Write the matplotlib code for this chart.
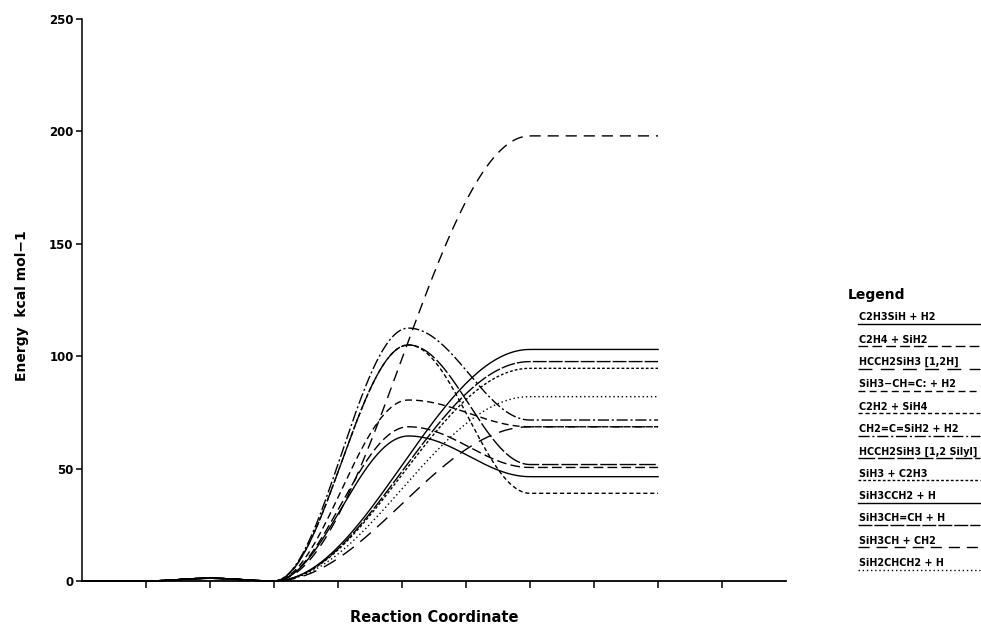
import numpy as np
import matplotlib
matplotlib.use("Agg")
import matplotlib.pyplot as plt
from matplotlib.lines import Line2D

# stationary points (kcal/mol)
names = ["C2H3SiH + H2", "C2H4 + SiH2", "HCCH2SiH3 [1,2H]", "SiH3\u2212CH=C: + H2",
         "C2H2 + SiH4", "CH2=C=SiH2 + H2", "HCCH2SiH3 [1,2 Silyl]", "SiH3 + C2H3",
         "SiH3CCH2 + H", "SiH3CH=CH + H", "SiH3CH + CH2", "SiH2CHCH2 + H"]
ts_energy = [64.5, 68.6, None, 80.5, 105.0, 112.5, 105.0, None, None, None, None, None]
product_energy = [46.4, 50.5, 68.6, 68.6, 39.0, 71.6, 51.8, 94.6, 103.0, 97.6, 198.0, 82.0]
styles = ["-", (0, (7, 3)), (0, (10, 6)), (0, (5, 3)), (0, (3, 2)), (0, (8, 2, 1.5, 2)),
          (0, (12, 2)), (0, (2, 1.5)), "-", (0, (10, 1.5)), (0, (8, 5)), (0, (1, 2))]

# reaction coordinate positions of the stationary points
x_start, x_pre, x_bump, x_react, x_ts, x_prod, x_end = 0, 1, 2, 3, 5.1, 7, 9
bump_energy = 1.2


def smooth(nodes_x, nodes_y, n=80):
    # connect stationary points with flat-ended smooth segments
    xs, ys = [], []
    for i in range(len(nodes_x) - 1):
        t = np.linspace(0, 1, n)
        w = (1 - np.cos(np.pi * t)) / 2
        xs.append(nodes_x[i] + (nodes_x[i + 1] - nodes_x[i]) * t)
        ys.append(nodes_y[i] + (nodes_y[i + 1] - nodes_y[i]) * w)
    return np.concatenate(xs), np.concatenate(ys)


W, H = 981, 627
fig = plt.figure(figsize=(9.81, 6.27), dpi=100)
ax = fig.add_axes([0.0836, 0.0734, 0.7177, 0.8963])

for ts, prod, ls in zip(ts_energy, product_energy, styles):
    nx = [x_start, x_pre, x_bump, x_react]
    ny = [0, 0, bump_energy, 0]
    if ts is not None:
        nx.append(x_ts)
        ny.append(ts)
    nx += [x_prod, x_end]
    ny += [prod, prod]
    x, y = smooth(nx, ny)
    ax.plot(x, y, color="black", linestyle=ls, linewidth=1.0, clip_on=False)

ax.set_xlim(0, 11)
ax.set_ylim(0, 250)
ax.set_xticks(range(1, 11))
ax.set_xticklabels([])
ax.set_yticks(range(0, 251, 50))
ax.tick_params(axis="x", direction="out", length=5, width=1.1)
ax.tick_params(axis="y", direction="out", length=4, width=1.1, pad=2)
for lab in ax.get_yticklabels():
    lab.set_fontweight("bold")
    lab.set_fontsize(8.5)
ax.spines["top"].set_visible(False)
ax.spines["right"].set_visible(False)
ax.spines["left"].set_linewidth(1.1)
ax.spines["bottom"].set_linewidth(1.3)

fig.text(434 / W, 1 - 622 / H, "Reaction Coordinate", fontsize=10.5,
         fontweight="bold", ha="center", va="baseline")
ax.set_ylabel("Energy  kcal mol\u22121", fontsize=10, fontweight="bold")
ax.yaxis.set_label_coords(-0.076, 0.49)

# hand-drawn legend on the right, line sample under each entry
fig.text(848 / W, 1 - 295 / H, "Legend", fontsize=10, fontweight="bold", va="center")
for i, (name, ls) in enumerate(zip(names, styles)):
    yc = 317.3 + i * 22.35
    fig.text(859 / W, 1 - yc / H, name, fontsize=6.9, fontweight="bold", va="center")
    fig.add_artist(Line2D([858 / W, 980 / W], [1 - (yc + 6.5) / H] * 2,
                          transform=fig.transFigure, color="black",
                          linestyle=ls, linewidth=1.0))

fig.savefig("out.png", dpi=100)
